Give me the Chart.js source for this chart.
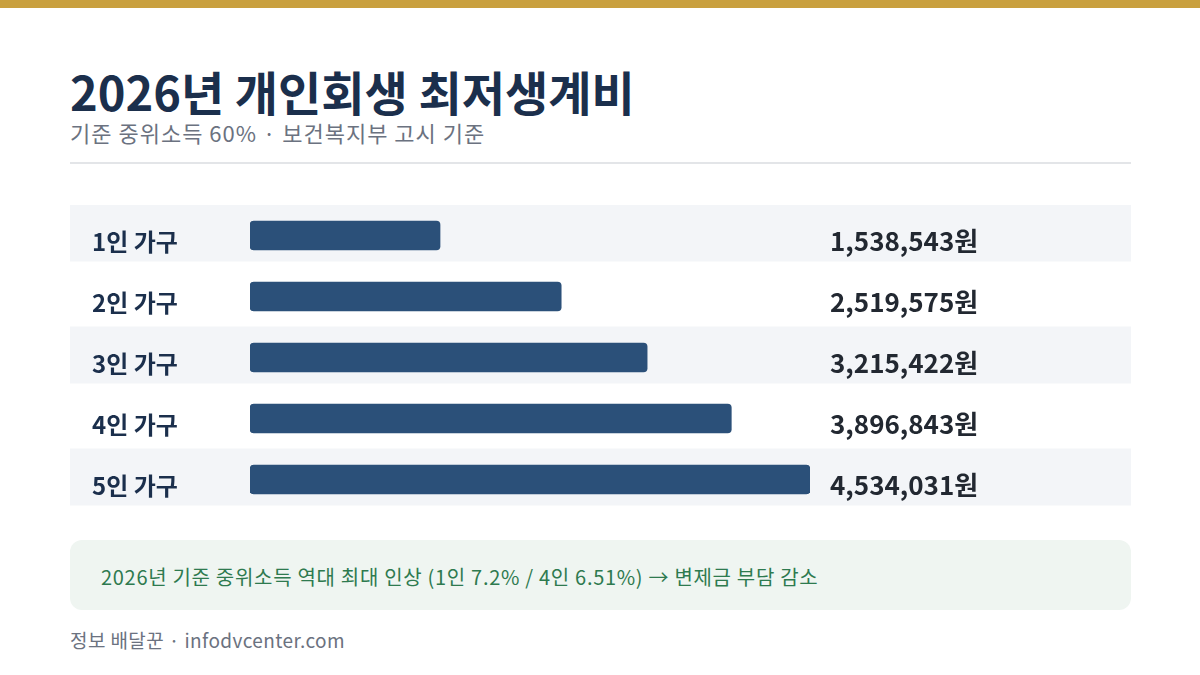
<!DOCTYPE html>
<html>
<head>
<meta charset='utf-8' />
<title>2026년 개인회생 최저생계비</title>
<script src="https://cdn.jsdelivr.net/npm/chart.js"></script>
<style>
body { margin:0; padding:0; width:1200px; height:675px; background:#fff; font-family:"Noto Sans CJK KR","Noto Sans",sans-serif; position:relative; overflow:hidden; }
#topbar { position:absolute; left:0; top:0; width:1200px; height:8px; background:#c9a03f; }
#title { position:absolute; left:70px; top:56px; font-size:47px; font-weight:700; color:#1b2f4c; }
#sub { position:absolute; left:70px; top:116px; font-size:22px; letter-spacing:1px; color:#6b7280; }
#rule { position:absolute; left:70px; top:162px; width:1061px; height:2px; background:#e3e5e8; }
#wrap { position:absolute; left:70px; top:205px; width:1061px; height:305px; }
#note { position:absolute; left:70px; top:540px; width:1061px; height:70px; background:#eff5f1; border-radius:12px; }
#note div { position:absolute; left:31px; top:22px; font-size:20px; letter-spacing:0.7px; color:#2e7a4f; }
#foot { position:absolute; left:70px; top:626px; font-size:19px; letter-spacing:0.4px; color:#6b7280; }
</style>
</head>
<body>
<div id="topbar"></div>
<div id="title">2026년 개인회생 최저생계비</div>
<div id="sub">기준 중위소득 60% · 보건복지부 고시 기준</div>
<div id="rule"></div>
<div id="wrap"><canvas id="chart" width="1061" height="305"></canvas></div>
<div id="note"><div>2026년 기준 중위소득 역대 최대 인상 (1인 7.2% / 4인 6.51%) → 변제금 부담 감소</div></div>
<div id="foot">정보 배달꾼 · infodvcenter.com</div>
<script>
const categories = ["1인 가구", "2인 가구", "3인 가구", "4인 가구", "5인 가구"];
const values = [1538543, 2519575, 3215422, 3896843, 4534031];

const rowPlugin = {
  id: 'rows',
  beforeDraw: (chart) => {
    const ctx = chart.ctx;
    const y = chart.scales.y;
    ctx.save();
    categories.forEach((c, i) => {
      if (i % 2 == 0) {
        ctx.fillStyle = '#f3f5f8';
        ctx.fillRect(0, y.getPixelForValue(i) - 31, chart.width, 57);
      }
    });
    ctx.restore();
  },
  afterDatasetsDraw: (chart) => {
    const ctx = chart.ctx;
    const y = chart.scales.y;
    ctx.save();
    ctx.textBaseline = 'middle';
    categories.forEach((c, i) => {
      const py = y.getPixelForValue(i) + 6;
      ctx.font = '700 24px "Noto Sans CJK KR"';
      ctx.fillStyle = '#1b2f4c';
      ctx.textAlign = 'left';
      ctx.fillText(c, 22, py);
      ctx.font = '700 26px "Noto Sans CJK KR"';
      ctx.fillStyle = '#222831';
      ctx.fillText(values[i].toLocaleString('en-US') + '원', 760, py);
    });
    ctx.restore();
  }
};

new Chart(document.getElementById('chart'), {
  type: 'bar',
  data: {
    labels: categories,
    datasets: [{
      data: values,
      backgroundColor: '#2b5079',
      borderRadius: 4,
      borderSkipped: false,
      barThickness: 29
    }]
  },
  options: {
    indexAxis: 'y',
    responsive: false,
    animation: false,
    layout: { padding: { left: 180, right: 321, top: 0, bottom: 0 } },
    plugins: { legend: { display: false }, tooltip: { enabled: false } },
    scales: {
      x: { display: false, min: 0, max: 4534031 },
      y: { display: false }
    }
  },
  plugins: [rowPlugin]
});
</script>
</body>
</html>
